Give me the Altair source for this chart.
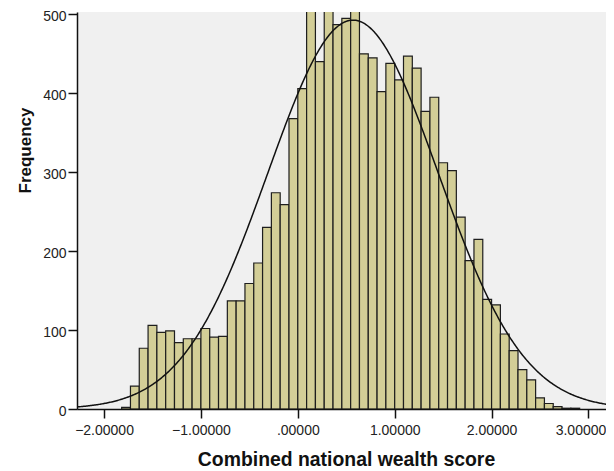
import altair as alt
import pandas as pd

# ---- data ----
bin_width = 1 / 11
first_bin_start = -1 - 9 / 11
counts = [2, 29, 77, 106, 97, 99, 84, 89, 89,
          102, 91, 92, 137, 137, 159, 185, 230, 274, 259, 368,
          406, 600, 440, 615, 487, 495, 590, 450, 445, 402, 438,
          417, 447, 432, 377, 395, 312, 302, 243, 188, 215, 139,
          132, 95, 74, 50, 37, 14, 7, 3, 1, 1]
curve_mean = 0.57
curve_sd = 0.88
x_ticks = [-2, -1, 0, 1, 2, 3]
y_ticks = [0, 100, 200, 300, 400, 500]
x_title = "Combined national wealth score"
y_title = "Frequency"

n_total = sum(counts)
df = pd.DataFrame({
    "start": [first_bin_start + i * bin_width for i in range(len(counts))],
    "count": counts,
})
df["end"] = df["start"] + bin_width
df["zero"] = 0

FONT = "Liberation Sans"
x_scale = alt.Scale(domain=[-2.279, 3.181], nice=False, zero=False)
y_scale = alt.Scale(domain=[0, 503], nice=False)

x_axis = alt.Axis(
    values=x_ticks,
    labelExpr="datum.value == 0 ? '.00000' : format(datum.value, '.5f')",
    labelFont=FONT, labelFontSize=14, labelColor="#222222", labelPadding=5,
    labelFlush=False, labelOverlap=False,
    labelOffset={"condition": {"test": "datum.value == 3", "value": -8}, "value": 0},
    tickSize=9, tickColor="#111111", tickWidth=1.5,
    domainColor="#111111", domainWidth=1.5,
    grid=False, zindex=1,
    titleFont=FONT, titleFontSize=19.4, titleFontWeight="bold", titleColor="#111111",
    titleX=269, titleY=56, titleBaseline="alphabetic", titleAlign="center",
)
y_axis = alt.Axis(
    values=y_ticks,
    labelFont=FONT, labelFontSize=14, labelColor="#222222", labelPadding=2,
    labelOffset=2,
    tickSize=9, tickColor="#111111", tickWidth=1.5,
    domainColor="#111111", domainWidth=1.5,
    grid=False, zindex=1,
    titleFont=FONT, titleFontSize=17, titleFontWeight="bold", titleColor="#111111",
    titleX=-47, titleY=138, titleBaseline="alphabetic", titleAlign="center", titleAngle=270,
)

bars = alt.Chart(df).mark_rect(
    fill="#D3CE97", stroke="#1e1e1e", strokeWidth=1.2, clip=True
).encode(
    x=alt.X("start:Q", scale=x_scale, axis=x_axis, title=x_title),
    x2="end:Q",
    y=alt.Y("count:Q", scale=y_scale, axis=y_axis, title=y_title),
    y2="zero:Q",
)

curve = alt.Chart(alt.sequence(-2.3, 3.31, 0.01, as_="x")).transform_calculate(
    f=f"{n_total * bin_width} * densityNormal(datum.x, {curve_mean}, {curve_sd})"
).mark_line(color="#111111", strokeWidth=1.5, clip=True).encode(
    x=alt.X("x:Q", scale=x_scale),
    y=alt.Y("f:Q", scale=y_scale),
)

chart = alt.layer(bars, curve).properties(
    width=529, height=397,
    padding={"left": 69, "top": 4, "right": 0, "bottom": 62},
    autosize=alt.AutoSizeParams(type="none"),
    background="white",
).configure_view(fill="#F0F0F0", stroke=None)

chart.save("out.html", embed_options={"renderer": "svg", "actions": False})
